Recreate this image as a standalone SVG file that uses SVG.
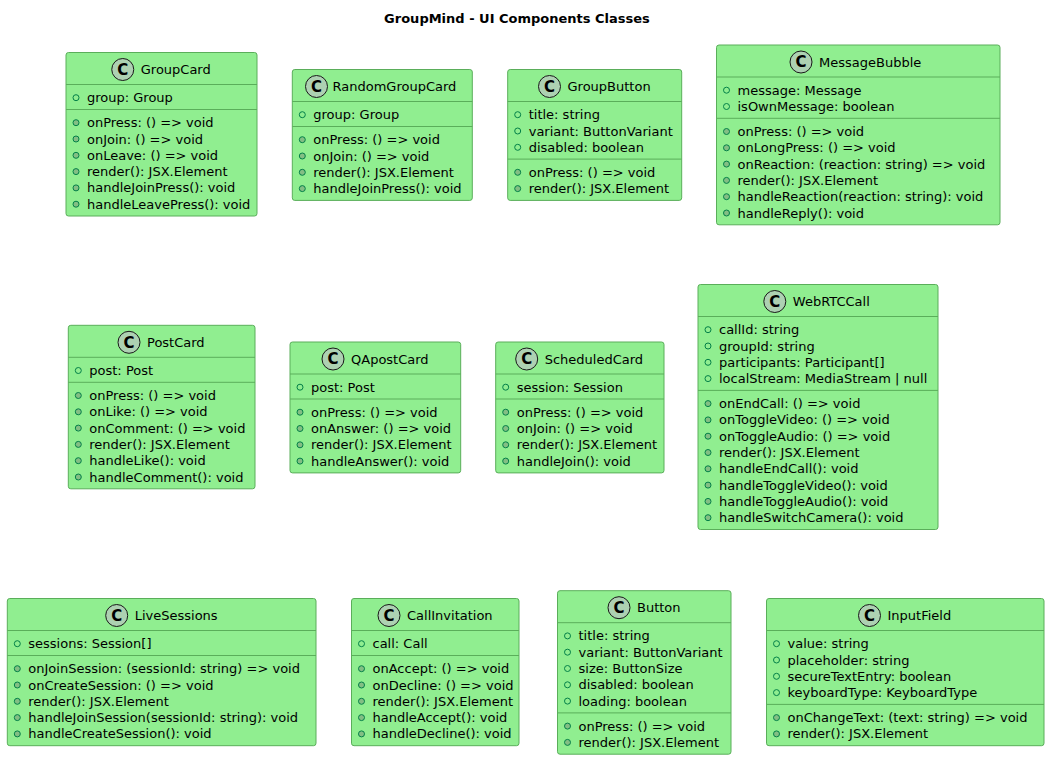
<svg xmlns="http://www.w3.org/2000/svg" width="1050" height="759" viewBox="0 0 1050 759">
<style>
.box{fill:#90EE90;stroke:#5AAE5A;stroke-width:1}
.sep{stroke:#5AAE5A;stroke-width:1}
.ci{fill:#ADD1B2;stroke:#181818;stroke-width:1}
.cl{font-family:"DejaVu Sans",sans-serif;font-size:15px;font-weight:bold;fill:#000;text-anchor:middle}
.nm{font-family:"DejaVu Sans",sans-serif;font-size:13px;fill:#000}
.t{font-family:"DejaVu Sans",sans-serif;font-size:13px;fill:#000}
.fi{fill:none;stroke:#038048;stroke-width:1}
.mi{fill:#84BE84;stroke:#038048;stroke-width:1}
.title{font-family:"DejaVu Sans",sans-serif;font-size:13px;font-weight:bold;fill:#000;text-anchor:middle}
</style>
<rect width="1050" height="759" fill="#FFFFFF"/>
<text class="title" x="517" y="23">GroupMind - UI Components Classes</text>

<g id="GroupCard">
<rect class="box" x="66" y="52.5" width="191" height="163.5" rx="2.5"/>
<circle class="ci" cx="122.75" cy="69.5" r="11"/><text class="cl" x="122.75" y="74.8">C</text>
<text class="nm" x="140.75" y="74">GroupCard</text>
<line class="sep" x1="66" y1="84.5" x2="257" y2="84.5"/>
<circle class="fi" cx="76" cy="97.7" r="3"/><text class="t" x="87" y="102.2">group: Group</text>
<line class="sep" x1="66" y1="109.5" x2="257" y2="109.5"/>
<circle class="mi" cx="76" cy="122.7" r="3"/><text class="t" x="87" y="127.2">onPress: () =&gt; void</text>
<circle class="mi" cx="76" cy="139" r="3"/><text class="t" x="87" y="143.5">onJoin: () =&gt; void</text>
<circle class="mi" cx="76" cy="155.3" r="3"/><text class="t" x="87" y="159.8">onLeave: () =&gt; void</text>
<circle class="mi" cx="76" cy="171.6" r="3"/><text class="t" x="87" y="176.1">render(): JSX.Element</text>
<circle class="mi" cx="76" cy="187.9" r="3"/><text class="t" x="87" y="192.4">handleJoinPress(): void</text>
<circle class="mi" cx="76" cy="204.2" r="3"/><text class="t" x="87" y="208.7">handleLeavePress(): void</text>
</g>

<g id="RandomGroupCard">
<rect class="box" x="292.3" y="69.5" width="180" height="130.9" rx="2.5"/>
<circle class="ci" cx="316.5" cy="86.5" r="11"/><text class="cl" x="316.5" y="91.8">C</text>
<text class="nm" x="332.5" y="91">RandomGroupCard</text>
<line class="sep" x1="292.3" y1="101.5" x2="472.3" y2="101.5"/>
<circle class="fi" cx="302.3" cy="114.7" r="3"/><text class="t" x="313.3" y="119.2">group: Group</text>
<line class="sep" x1="292.3" y1="126.5" x2="472.3" y2="126.5"/>
<circle class="mi" cx="302.3" cy="139.7" r="3"/><text class="t" x="313.3" y="144.2">onPress: () =&gt; void</text>
<circle class="mi" cx="302.3" cy="156" r="3"/><text class="t" x="313.3" y="160.5">onJoin: () =&gt; void</text>
<circle class="mi" cx="302.3" cy="172.3" r="3"/><text class="t" x="313.3" y="176.8">render(): JSX.Element</text>
<circle class="mi" cx="302.3" cy="188.6" r="3"/><text class="t" x="313.3" y="193.1">handleJoinPress(): void</text>
</g>

<g id="GroupButton">
<rect class="box" x="507.7" y="69.5" width="174" height="130.9" rx="2.5"/>
<circle class="ci" cx="549.5" cy="86.5" r="11"/><text class="cl" x="549.5" y="91.8">C</text>
<text class="nm" x="567.5" y="91">GroupButton</text>
<line class="sep" x1="507.7" y1="101.5" x2="681.7" y2="101.5"/>
<circle class="fi" cx="517.7" cy="114.7" r="3"/><text class="t" x="528.7" y="119.2">title: string</text>
<circle class="fi" cx="517.7" cy="131" r="3"/><text class="t" x="528.7" y="135.5">variant: ButtonVariant</text>
<circle class="fi" cx="517.7" cy="147.3" r="3"/><text class="t" x="528.7" y="151.8">disabled: boolean</text>
<line class="sep" x1="507.7" y1="159.1" x2="681.7" y2="159.1"/>
<circle class="mi" cx="517.7" cy="172.3" r="3"/><text class="t" x="528.7" y="176.8">onPress: () =&gt; void</text>
<circle class="mi" cx="517.7" cy="188.6" r="3"/><text class="t" x="528.7" y="193.1">render(): JSX.Element</text>
</g>

<g id="MessageBubble">
<rect class="box" x="716.5" y="45" width="283.5" height="179.8" rx="2.5"/>
<circle class="ci" cx="801" cy="62" r="11"/><text class="cl" x="801" y="67.3">C</text>
<text class="nm" x="819" y="66.5">MessageBubble</text>
<line class="sep" x1="716.5" y1="77" x2="1000" y2="77"/>
<circle class="fi" cx="726.5" cy="90.2" r="3"/><text class="t" x="737.5" y="94.7">message: Message</text>
<circle class="fi" cx="726.5" cy="106.5" r="3"/><text class="t" x="737.5" y="111">isOwnMessage: boolean</text>
<line class="sep" x1="716.5" y1="118.3" x2="1000" y2="118.3"/>
<circle class="mi" cx="726.5" cy="131.5" r="3"/><text class="t" x="737.5" y="136">onPress: () =&gt; void</text>
<circle class="mi" cx="726.5" cy="147.8" r="3"/><text class="t" x="737.5" y="152.3">onLongPress: () =&gt; void</text>
<circle class="mi" cx="726.5" cy="164.1" r="3"/><text class="t" x="737.5" y="168.6">onReaction: (reaction: string) =&gt; void</text>
<circle class="mi" cx="726.5" cy="180.4" r="3"/><text class="t" x="737.5" y="184.9">render(): JSX.Element</text>
<circle class="mi" cx="726.5" cy="196.7" r="3"/><text class="t" x="737.5" y="201.2">handleReaction(reaction: string): void</text>
<circle class="mi" cx="726.5" cy="213" r="3"/><text class="t" x="737.5" y="217.5">handleReply(): void</text>
</g>

<g id="PostCard">
<rect class="box" x="68.3" y="325.3" width="186.7" height="163.5" rx="2.5"/>
<circle class="ci" cx="129" cy="342.3" r="11"/><text class="cl" x="129" y="347.6">C</text>
<text class="nm" x="147" y="346.8">PostCard</text>
<line class="sep" x1="68.3" y1="357.3" x2="255" y2="357.3"/>
<circle class="fi" cx="78.3" cy="370.5" r="3"/><text class="t" x="89.3" y="375">post: Post</text>
<line class="sep" x1="68.3" y1="382.3" x2="255" y2="382.3"/>
<circle class="mi" cx="78.3" cy="395.5" r="3"/><text class="t" x="89.3" y="400">onPress: () =&gt; void</text>
<circle class="mi" cx="78.3" cy="411.8" r="3"/><text class="t" x="89.3" y="416.3">onLike: () =&gt; void</text>
<circle class="mi" cx="78.3" cy="428.1" r="3"/><text class="t" x="89.3" y="432.6">onComment: () =&gt; void</text>
<circle class="mi" cx="78.3" cy="444.4" r="3"/><text class="t" x="89.3" y="448.9">render(): JSX.Element</text>
<circle class="mi" cx="78.3" cy="460.7" r="3"/><text class="t" x="89.3" y="465.2">handleLike(): void</text>
<circle class="mi" cx="78.3" cy="477" r="3"/><text class="t" x="89.3" y="481.5">handleComment(): void</text>
</g>

<g id="QApostCard">
<rect class="box" x="290" y="342" width="170.7" height="130.9" rx="2.5"/>
<circle class="ci" cx="333" cy="359" r="11"/><text class="cl" x="333" y="364.3">C</text>
<text class="nm" x="351" y="363.5">QApostCard</text>
<line class="sep" x1="290" y1="374" x2="460.7" y2="374"/>
<circle class="fi" cx="300" cy="387.2" r="3"/><text class="t" x="311" y="391.7">post: Post</text>
<line class="sep" x1="290" y1="399" x2="460.7" y2="399"/>
<circle class="mi" cx="300" cy="412.2" r="3"/><text class="t" x="311" y="416.7">onPress: () =&gt; void</text>
<circle class="mi" cx="300" cy="428.5" r="3"/><text class="t" x="311" y="433">onAnswer: () =&gt; void</text>
<circle class="mi" cx="300" cy="444.8" r="3"/><text class="t" x="311" y="449.3">render(): JSX.Element</text>
<circle class="mi" cx="300" cy="461.1" r="3"/><text class="t" x="311" y="465.6">handleAnswer(): void</text>
</g>

<g id="ScheduledCard">
<rect class="box" x="495.7" y="342" width="168.3" height="130.9" rx="2.5"/>
<circle class="ci" cx="526.7" cy="359" r="11"/><text class="cl" x="526.7" y="364.3">C</text>
<text class="nm" x="544.7" y="363.5">ScheduledCard</text>
<line class="sep" x1="495.7" y1="374" x2="664" y2="374"/>
<circle class="fi" cx="505.7" cy="387.2" r="3"/><text class="t" x="516.7" y="391.7">session: Session</text>
<line class="sep" x1="495.7" y1="399" x2="664" y2="399"/>
<circle class="mi" cx="505.7" cy="412.2" r="3"/><text class="t" x="516.7" y="416.7">onPress: () =&gt; void</text>
<circle class="mi" cx="505.7" cy="428.5" r="3"/><text class="t" x="516.7" y="433">onJoin: () =&gt; void</text>
<circle class="mi" cx="505.7" cy="444.8" r="3"/><text class="t" x="516.7" y="449.3">render(): JSX.Element</text>
<circle class="mi" cx="505.7" cy="461.1" r="3"/><text class="t" x="516.7" y="465.6">handleJoin(): void</text>
</g>

<g id="WebRTCCall">
<rect class="box" x="698" y="284.5" width="240" height="245" rx="2.5"/>
<circle class="ci" cx="774.8" cy="301.5" r="11"/><text class="cl" x="774.8" y="306.8">C</text>
<text class="nm" x="792.8" y="306">WebRTCCall</text>
<line class="sep" x1="698" y1="316.5" x2="938" y2="316.5"/>
<circle class="fi" cx="708" cy="329.7" r="3"/><text class="t" x="719" y="334.2">callId: string</text>
<circle class="fi" cx="708" cy="346" r="3"/><text class="t" x="719" y="350.5">groupId: string</text>
<circle class="fi" cx="708" cy="362.3" r="3"/><text class="t" x="719" y="366.8">participants: Participant[]</text>
<circle class="fi" cx="708" cy="378.6" r="3"/><text class="t" x="719" y="383.1">localStream: MediaStream | null</text>
<line class="sep" x1="698" y1="390.4" x2="938" y2="390.4"/>
<circle class="mi" cx="708" cy="403.6" r="3"/><text class="t" x="719" y="408.1">onEndCall: () =&gt; void</text>
<circle class="mi" cx="708" cy="419.9" r="3"/><text class="t" x="719" y="424.4">onToggleVideo: () =&gt; void</text>
<circle class="mi" cx="708" cy="436.2" r="3"/><text class="t" x="719" y="440.7">onToggleAudio: () =&gt; void</text>
<circle class="mi" cx="708" cy="452.5" r="3"/><text class="t" x="719" y="457">render(): JSX.Element</text>
<circle class="mi" cx="708" cy="468.8" r="3"/><text class="t" x="719" y="473.3">handleEndCall(): void</text>
<circle class="mi" cx="708" cy="485.1" r="3"/><text class="t" x="719" y="489.6">handleToggleVideo(): void</text>
<circle class="mi" cx="708" cy="501.4" r="3"/><text class="t" x="719" y="505.9">handleToggleAudio(): void</text>
<circle class="mi" cx="708" cy="517.7" r="3"/><text class="t" x="719" y="522.2">handleSwitchCamera(): void</text>
</g>

<g id="LiveSessions">
<rect class="box" x="7.3" y="598.5" width="308.7" height="147.2" rx="2.5"/>
<circle class="ci" cx="116.7" cy="615.5" r="11"/><text class="cl" x="116.7" y="620.8">C</text>
<text class="nm" x="134.7" y="620">LiveSessions</text>
<line class="sep" x1="7.3" y1="630.5" x2="316" y2="630.5"/>
<circle class="fi" cx="17.3" cy="643.7" r="3"/><text class="t" x="28.3" y="648.2">sessions: Session[]</text>
<line class="sep" x1="7.3" y1="655.5" x2="316" y2="655.5"/>
<circle class="mi" cx="17.3" cy="668.7" r="3"/><text class="t" x="28.3" y="673.2">onJoinSession: (sessionId: string) =&gt; void</text>
<circle class="mi" cx="17.3" cy="685" r="3"/><text class="t" x="28.3" y="689.5">onCreateSession: () =&gt; void</text>
<circle class="mi" cx="17.3" cy="701.3" r="3"/><text class="t" x="28.3" y="705.8">render(): JSX.Element</text>
<circle class="mi" cx="17.3" cy="717.6" r="3"/><text class="t" x="28.3" y="722.1">handleJoinSession(sessionId: string): void</text>
<circle class="mi" cx="17.3" cy="733.9" r="3"/><text class="t" x="28.3" y="738.4">handleCreateSession(): void</text>
</g>

<g id="CallInvitation">
<rect class="box" x="351.5" y="598.5" width="167.5" height="147.2" rx="2.5"/>
<circle class="ci" cx="389" cy="615.5" r="11"/><text class="cl" x="389" y="620.8">C</text>
<text class="nm" x="407" y="620">CallInvitation</text>
<line class="sep" x1="351.5" y1="630.5" x2="519" y2="630.5"/>
<circle class="fi" cx="361.5" cy="643.7" r="3"/><text class="t" x="372.5" y="648.2">call: Call</text>
<line class="sep" x1="351.5" y1="655.5" x2="519" y2="655.5"/>
<circle class="mi" cx="361.5" cy="668.7" r="3"/><text class="t" x="372.5" y="673.2">onAccept: () =&gt; void</text>
<circle class="mi" cx="361.5" cy="685" r="3"/><text class="t" x="372.5" y="689.5">onDecline: () =&gt; void</text>
<circle class="mi" cx="361.5" cy="701.3" r="3"/><text class="t" x="372.5" y="705.8">render(): JSX.Element</text>
<circle class="mi" cx="361.5" cy="717.6" r="3"/><text class="t" x="372.5" y="722.1">handleAccept(): void</text>
<circle class="mi" cx="361.5" cy="733.9" r="3"/><text class="t" x="372.5" y="738.4">handleDecline(): void</text>
</g>

<g id="Button">
<rect class="box" x="557.5" y="590.7" width="173.5" height="163.5" rx="2.5"/>
<circle class="ci" cx="619" cy="607.7" r="11"/><text class="cl" x="619" y="613">C</text>
<text class="nm" x="637" y="612.2">Button</text>
<line class="sep" x1="557.5" y1="622.7" x2="731" y2="622.7"/>
<circle class="fi" cx="567.5" cy="635.9" r="3"/><text class="t" x="578.5" y="640.4">title: string</text>
<circle class="fi" cx="567.5" cy="652.2" r="3"/><text class="t" x="578.5" y="656.7">variant: ButtonVariant</text>
<circle class="fi" cx="567.5" cy="668.5" r="3"/><text class="t" x="578.5" y="673">size: ButtonSize</text>
<circle class="fi" cx="567.5" cy="684.8" r="3"/><text class="t" x="578.5" y="689.3">disabled: boolean</text>
<circle class="fi" cx="567.5" cy="701.1" r="3"/><text class="t" x="578.5" y="705.6">loading: boolean</text>
<line class="sep" x1="557.5" y1="712.9" x2="731" y2="712.9"/>
<circle class="mi" cx="567.5" cy="726.1" r="3"/><text class="t" x="578.5" y="730.6">onPress: () =&gt; void</text>
<circle class="mi" cx="567.5" cy="742.4" r="3"/><text class="t" x="578.5" y="746.9">render(): JSX.Element</text>
</g>

<g id="InputField">
<rect class="box" x="766.5" y="598.5" width="277.5" height="147.2" rx="2.5"/>
<circle class="ci" cx="869.5" cy="615.5" r="11"/><text class="cl" x="869.5" y="620.8">C</text>
<text class="nm" x="887.5" y="620">InputField</text>
<line class="sep" x1="766.5" y1="630.5" x2="1044" y2="630.5"/>
<circle class="fi" cx="776.5" cy="643.7" r="3"/><text class="t" x="787.5" y="648.2">value: string</text>
<circle class="fi" cx="776.5" cy="660" r="3"/><text class="t" x="787.5" y="664.5">placeholder: string</text>
<circle class="fi" cx="776.5" cy="676.3" r="3"/><text class="t" x="787.5" y="680.8">secureTextEntry: boolean</text>
<circle class="fi" cx="776.5" cy="692.6" r="3"/><text class="t" x="787.5" y="697.1">keyboardType: KeyboardType</text>
<line class="sep" x1="766.5" y1="704.4" x2="1044" y2="704.4"/>
<circle class="mi" cx="776.5" cy="717.6" r="3"/><text class="t" x="787.5" y="722.1">onChangeText: (text: string) =&gt; void</text>
<circle class="mi" cx="776.5" cy="733.9" r="3"/><text class="t" x="787.5" y="738.4">render(): JSX.Element</text>
</g>
</svg>
